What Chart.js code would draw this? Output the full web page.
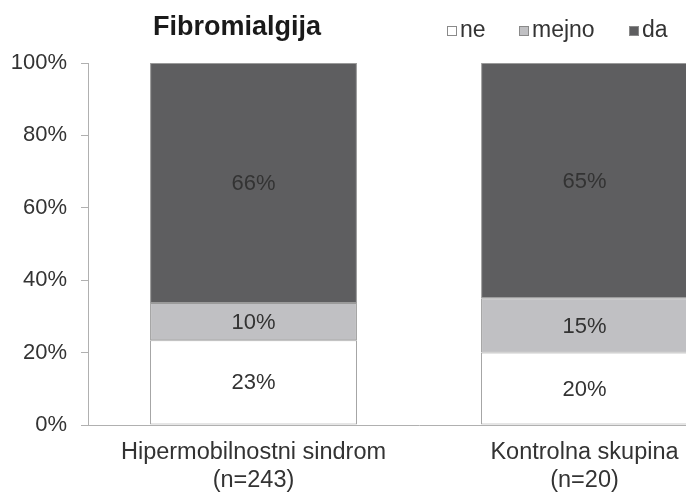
<!DOCTYPE html>
<html>
<head>
<meta charset="utf-8">
<script src="https://cdn.jsdelivr.net/npm/chart.js@4.4.0/dist/chart.umd.min.js"></script>
<style>
  html, body { margin: 0; padding: 0; background: #fff; overflow: hidden; }
  #wrap { width: 750px; height: 492px; }
</style>
</head>
<body>
<div id="wrap"><canvas id="chart" width="750" height="492"></canvas></div>
<script>
// categories and series (percent of group)
const categories = [['Hipermobilnostni sindrom', '(n=243)'], ['Kontrolna skupina', '(n=20)']];
const ne = [23.4, 20];
const mejno = [10.3, 15];
const da = [66.3, 65];
const yTicks = [0, 20, 40, 60, 80, 100];

const FONT = '"Liberation Sans", Arial, sans-serif';

const segLabels = {
  id: 'segLabels',
  afterDatasetsDraw(chart) {
    const ctx = chart.ctx;
    ctx.save();
    ctx.font = '22px ' + FONT;
    ctx.fillStyle = '#333';
    ctx.textAlign = 'center';
    ctx.textBaseline = 'middle';
    chart.data.datasets.forEach((ds, i) => {
      chart.getDatasetMeta(i).data.forEach((bar, j) => {
        const mid = (bar.y + bar.base) / 2;
        ctx.fillText(Math.round(ds.data[j]) + '%', bar.x, mid + 1);
      });
    });
    ctx.restore();
  }
};

// title and legend sit above the plot
const header = {
  id: 'header',
  afterDraw(chart) {
    const ctx = chart.ctx;
    ctx.save();
    ctx.textBaseline = 'alphabetic';
    ctx.fillStyle = '#1a1a1a';
    ctx.font = 'bold 27px ' + FONT;
    ctx.textAlign = 'left';
    ctx.fillText('Fibromialgija', 153, 35);

    ctx.font = '23px ' + FONT;
    const boxX = [447, 519, 629];
    chart.data.datasets.forEach((ds, i) => {
      const x = boxX[i];
      ctx.fillStyle = ds.backgroundColor;
      ctx.fillRect(x, 26, 10, 10);
      ctx.strokeStyle = '#8a8a8a';
      ctx.lineWidth = 1;
      ctx.strokeRect(x + 0.5, 26.5, 9, 9);
      ctx.fillStyle = '#333';
      ctx.fillText(ds.label, x + 13, 37);
    });
    ctx.restore();
  }
};

new Chart(document.getElementById('chart'), {
  type: 'bar',
  data: {
    labels: categories,
    datasets: [
      { label: 'ne', data: ne, backgroundColor: '#ffffff' },
      { label: 'mejno', data: mejno, backgroundColor: '#c0c0c3' },
      { label: 'da', data: da, backgroundColor: '#5e5e60' }
    ].map(d => Object.assign(d, {
      borderColor: '#9a9a9a', borderWidth: 1, borderSkipped: false,
      barPercentage: 0.625, categoryPercentage: 1
    }))
  },
  options: {
    responsive: false,
    animation: false,
    layout: { padding: { top: 63, right: 0, left: 0, bottom: 0 } },
    plugins: { legend: { display: false }, title: { display: false }, tooltip: { enabled: false } },
    scales: {
      x: {
        stacked: true,
        grid: { display: false },
        border: { display: true, color: '#b0b0b0', width: 1 },
        ticks: { color: '#333', font: { family: FONT, size: 23.5, lineHeight: 1.19 }, padding: 6, maxRotation: 0 },
        afterFit(s) { s.height = 67; }
      },
      y: {
        stacked: true,
        min: 0, max: 100,
        afterBuildTicks(s) { s.ticks = yTicks.map(v => ({ value: v })); },
        grid: { drawOnChartArea: false, drawTicks: true, tickLength: 7, color: '#b0b0b0' },
        border: { display: true, color: '#b0b0b0', width: 1 },
        ticks: { color: '#333', font: { family: FONT, size: 22 }, padding: 14, callback: v => v + '%' },
        afterFit(s) { s.width = 88; }
      }
    }
  },
  plugins: [segLabels, header]
});
</script>
</body>
</html>
